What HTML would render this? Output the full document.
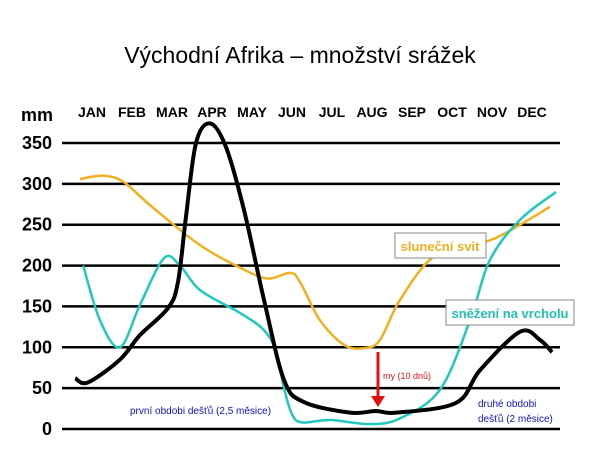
<!DOCTYPE html>
<html><head><meta charset="utf-8"><style>
body{margin:0;background:#fff;}
svg text{font-family:"Liberation Sans",sans-serif;}
</style></head><body>
<svg id="c" width="600" height="450" xmlns="http://www.w3.org/2000/svg">
<text x="300" y="63" text-anchor="middle" font-size="23" fill="#000">Východní Afrika – množství srážek</text>
<g id="grid"></g>
<g id="series"></g>
<rect x="395" y="233" width="91" height="25" fill="#fff" stroke="#888"/>
<text x="440" y="251" text-anchor="middle" font-size="13" font-weight="bold" fill="#f0b020">sluneční svit</text>
<rect x="446" y="300" width="128" height="25" fill="#fff" stroke="#888"/>
<text x="510" y="318" text-anchor="middle" font-size="13" font-weight="bold" fill="#20c0b0">sněžení na vrcholu</text>
<line x1="378" y1="352" x2="378" y2="398" stroke="#e01010" stroke-width="3"/>
<polygon points="371,396 385,396 378,407" fill="#e01010"/>
<text x="383" y="379" font-size="9" fill="#e01010">my (10 dnů)</text>
<text x="130" y="414" font-size="10" fill="#1010c0">první obdobi dešťů (2,5 měsice)</text>
<text x="478" y="407" font-size="10" fill="#1010c0">druhé obdobi</text>
<text x="478" y="422" font-size="10" fill="#1010c0">dešťů (2 měsice)</text>
</svg>
<script>
const months=["JAN","FEB","MAR","APR","MAY","JUN","JUL","AUG","SEP","OCT","NOV","DEC"];
const yTicks=[0,50,100,150,200,250,300,350];
const rainM=[-0.42,-0.1,0.7,1.2,1.9,2.15,2.35,2.6,2.95,3.35,3.8,4.3,4.8,5.3,6.45,7.1,7.6,9.1,9.7,10.7,11.2,11.5];
const rainV=[62,57,85,115,148,180,260,350,374,345,268,158,60,33,20,22,20,32,72,119,109,94];
const sunM=[-0.3,0.3,0.8,1.45,2.7,3.8,4.4,4.95,5.2,5.7,6.3,6.8,7.2,7.7,8.6,9.95,10.7,11.45];
const sunV=[306,310,302,274,225,195,184,191,180,133,103,99,109,158,213,231,250,272];
const snowM=[-0.22,0.2,0.7,1.2,1.8,2.2,2.7,3.7,4.3,4.6,4.8,5.0,5.25,5.95,6.95,7.7,8.7,9.45,9.95,10.7,11.6];
const snowV=[200,133,100,152,209,200,170,142,121,95,50,18,8,11,6,13,48,133,207,256,290];
const X=m=>92+40*m, Y=v=>429-v*0.8171;
const NS="http://www.w3.org/2000/svg";
const grid=document.getElementById('grid'), ser=document.getElementById('series');
function mk(t,a,p){const e=document.createElementNS(NS,t);for(const k in a)e.setAttribute(k,a[k]);p.appendChild(e);return e;}
yTicks.forEach(v=>{
  const l=mk('line',{x1:62,x2:560,y1:Y(v),y2:Y(v),stroke:'#000','stroke-width':2.5},grid);
  
  
  const t=mk('text',{x:52,y:Y(v)+6,'text-anchor':'end','font-size':18,'font-weight':'bold'},grid);
  t.textContent=v;
  
  
});
const mm=mk('text',{x:21,y:121,'font-size':18,'font-weight':'bold'},grid);mm.textContent='mm';


months.forEach((m,i)=>{
  const t=mk('text',{x:X(i),y:117,'text-anchor':'middle','font-size':14,'font-weight':'bold'},grid);
  t.textContent=m;
  
  
});
function path(ms,vs){const p=ms.map((m,i)=>[X(m),Y(vs[i])]);let d='M'+p[0][0]+','+p[0][1];
 for(let i=0;i<p.length-1;i++){const p0=p[Math.max(0,i-1)],p1=p[i],p2=p[i+1],p3=p[Math.min(p.length-1,i+2)];
  d+=` C${p1[0]+(p2[0]-p0[0])/6},${p1[1]+(p2[1]-p0[1])/6} ${p2[0]-(p3[0]-p1[0])/6},${p2[1]-(p3[1]-p1[1])/6} ${p2[0]},${p2[1]}`;}
 return d;}
const s1=mk('path',{d:path(sunM,sunV),fill:'none',stroke:'#f0b020','stroke-width':2.5},ser);


const s2=mk('path',{d:path(snowM,snowV),fill:'none',stroke:'#20c8c0','stroke-width':2.5},ser);


const s3=mk('path',{d:path(rainM,rainV),fill:'none',stroke:'#000','stroke-width':4},ser);


</script>
</body></html>
